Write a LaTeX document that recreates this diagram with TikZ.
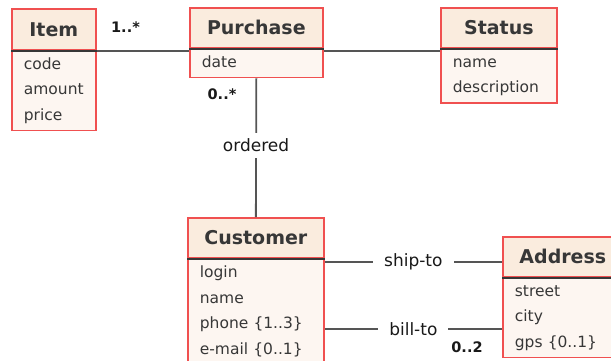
\documentclass[tikz,border=0pt]{standalone}
\usepackage{fontspec}
\setmainfont{DejaVu Sans}

\definecolor{umlred}{RGB}{240,80,80}
\definecolor{headfill}{RGB}{250,236,222}
\definecolor{attrfill}{RGB}{253,246,241}
\definecolor{linegray}{RGB}{85,85,85}
\definecolor{textgray}{RGB}{55,55,55}

\tikzset{
  head/.style={draw=umlred, fill=headfill, line width=1.7pt, anchor=north west,
    inner sep=0pt, minimum height=40pt, text=textgray,
    font=\fontsize{19}{22}\selectfont\bfseries},
  attr/.style={draw=umlred, fill=attrfill, line width=1.7pt, anchor=north west,
    inner xsep=12pt, inner ysep=0pt, align=left, text=textgray,
    font=\fontsize{15.5}{25.5}\selectfont},
  sepline/.style={draw=textgray, line width=1.9pt},
  assoc/.style={draw=linegray, line width=1.8pt},
  role/.style={fill=white, inner xsep=11pt, inner ysep=6pt, text=black!90,
    font=\fontsize{17}{20}\selectfont},
  mult/.style={inner sep=0pt, text=black!90, font=\fontsize{14.5}{17}\selectfont\bfseries}
}

\begin{document}
\begin{tikzpicture}[x=1pt,y=-1pt]
\useasboundingbox (0,0) rectangle (611,360);

\node[head, minimum width=84pt, minimum height=41pt] (item) at (11,8) {Item};
\node[attr, text width=60pt, minimum height=79pt] (itemattr) at (item.south west) {\strut code\\amount\\price\rule[-10pt]{0pt}{0pt}};

\node[head, minimum width=133pt] (purchase) at (189,7) {Purchase};
\node[attr, text width=109pt, minimum height=27pt] (purchaseattr) at (purchase.south west) {\strut date\rule[-10pt]{0pt}{0pt}};

\node[head, minimum width=116pt] (status) at (440,7) {Status};
\node[attr, text width=92pt, minimum height=53pt] (statusattr) at (status.south west) {\strut name\\description\rule[-10pt]{0pt}{0pt}};

\node[head, minimum width=136pt] (customer) at (187,217) {Customer};
\node[attr, text width=112pt, minimum height=105pt] (customerattr) at (customer.south west) {\strut login\\name\\phone \{1..3\}\\e-mail \{0..1\}\rule[-10pt]{0pt}{0pt}};

\node[head, minimum width=120pt] (address) at (502,236) {Address};
\node[attr, text width=96pt, minimum height=78pt] (addressattr) at (address.south west) {\strut street\\city\\gps \{0..1\}\rule[-10pt]{0pt}{0pt}};

\draw[sepline] (item.south west) -- (item.south east);
\draw[sepline] (purchase.south west) -- (purchase.south east);
\draw[sepline] (status.south west) -- (status.south east);
\draw[sepline] (customer.south west) -- (customer.south east);
\draw[sepline] (address.south west) -- (address.south east);

\draw[assoc] (item.south east) -- (item.south east -| purchase.west);
\draw[assoc] (item.south east -| purchase.east) -- (item.south east -| status.west);
\draw[assoc] (purchaseattr.south) -- node[role, yshift=2pt] (ordered) {ordered} (customer.north);
\draw[assoc] ([yshift=-3pt]customer.south east) -- node[role] (shipto) {ship-to} ([yshift=-3pt]customer.south east -| address.west);
\draw[assoc] ([yshift=-70pt]customerattr.north east) -- node[role] (billto) {bill-to} ([yshift=-70pt]customerattr.north east -| address.west);

\node[mult] (itemmult) at (125.5,27.5) {1..*};
\node[mult] (purchasemult) at (222,94) {0..*};
\node[mult] (addressmult) at (467,347.5) {0..2};

\end{tikzpicture}
\end{document}
